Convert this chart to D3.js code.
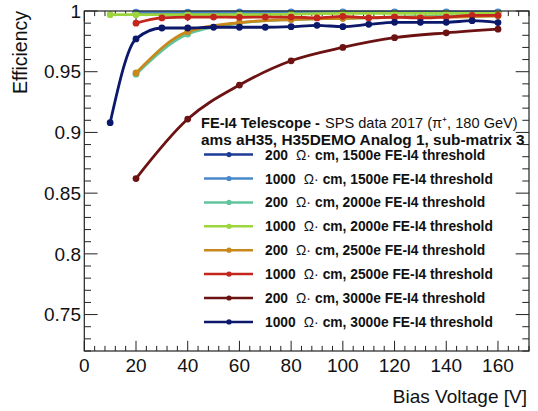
<!DOCTYPE html>
<html>
<head>
<meta charset="utf-8">
<script src="https://cdn.jsdelivr.net/npm/d3@7"></script>
<style>
  html, body { margin: 0; padding: 0; background: #fff; }
  svg { display: block; font-family: "Liberation Sans", Arial, Helvetica, sans-serif; }
</style>
</head>
<body>
<svg id="chart" width="538" height="411"></svg>
<script>
// ---------- data ----------
const seriesNames = [
  ["200", "1500e"], ["1000", "1500e"], ["200", "2000e"], ["1000", "2000e"],
  ["200", "2500e"], ["1000", "2500e"], ["200", "3000e"], ["1000", "3000e"]
];
const seriesColors = ["#1c3c96", "#4a88cc", "#62c49c", "#9cd63c", "#c8881c", "#c2261c", "#6c1212", "#0c186a"];

const x20 = [20, 40, 60, 80, 100, 120, 140, 160];
const x10 = [20, 30, 40, 50, 60, 70, 80, 90, 100, 110, 120, 130, 140, 150, 160];
const xNavy = [10, 20, 30, 40, 50, 60, 70, 80, 90, 100, 110, 120, 130, 140, 150, 160];
const xLime = [10, 20, 40, 60, 80, 100, 120, 140, 160];

const y200_1500 = [0.9986, 0.9987, 0.9988, 0.9988, 0.9988, 0.9989, 0.9989, 0.9989];
const y1000_1500 = [0.9990, 0.9991, 0.9992, 0.9992, 0.9992, 0.9993, 0.9993, 0.9993];
const y200_2000 = [0.948, 0.981, 0.990, 0.993, 0.994, 0.995, 0.996, 0.996];
const y1000_2000 = [0.997, 0.997, 0.997, 0.997, 0.9975, 0.998, 0.998, 0.998, 0.998];
const y200_2500 = [0.949, 0.983, 0.9905, 0.993, 0.994, 0.995, 0.995, 0.996];
const y1000_2500 = [0.990, 0.9943, 0.995, 0.995, 0.9948, 0.995, 0.995, 0.9943, 0.9956, 0.9943, 0.995, 0.9943, 0.995, 0.9964, 0.9964];
const y200_3000 = [0.862, 0.911, 0.939, 0.959, 0.970, 0.978, 0.982, 0.985];
const y1000_3000 = [0.908, 0.977, 0.986, 0.986, 0.9866, 0.9866, 0.9866, 0.9871, 0.9882, 0.9871, 0.989, 0.9907, 0.9907, 0.9907, 0.992, 0.9905];

const seriesX = [x20, x20, x20, xLime, x20, x10, x20, xNavy];
const seriesY = [y200_1500, y1000_1500, y200_2000, y1000_2000, y200_2500, y1000_2500, y200_3000, y1000_3000];

const xTicks = [0, 20, 40, 60, 80, 100, 120, 140, 160];
const yTicks = [0.75, 0.8, 0.85, 0.9, 0.95, 1];
const yTickLabels = ["0.75", "0.8", "0.85", "0.9", "0.95", "1"];

const headerBold = "FE-I4 Telescope -";
const headerRegular = "SPS data 2017 (\u03C0\u207A, 180 GeV)";
const header2 = "ams aH35, H35DEMO Analog 1, sub-matrix 3";
const xTitle = "Bias Voltage [V]";
const yTitle = "Efficiency";

// ---------- layout ----------
const L = 84.3, R = 529, T = 11, B = 351;
const svg = d3.select("#chart");
svg.append("rect").attr("width", 538).attr("height", 411).attr("fill", "#fff");

const x = d3.scaleLinear().domain([0, 172]).range([L, R]);
const y = d3.scaleLinear().domain([0.72, 1.0]).range([B, T]);

const majorX = 10.2, minorX = 5.1, majorY = 13.3, minorY = 6.7;
const axisColor = "#222";

const g = svg.append("g");

// x ticks (bottom and top)
const xMinor = d3.range(0, 173, 4);
xMinor.forEach(v => {
  const isMajor = v % 20 === 0;
  const len = isMajor ? majorX : minorX;
  g.append("line").attr("x1", x(v)).attr("x2", x(v)).attr("y1", B).attr("y2", B - len)
    .attr("stroke", axisColor).attr("stroke-width", 1);
  g.append("line").attr("x1", x(v)).attr("x2", x(v)).attr("y1", T).attr("y2", T + len)
    .attr("stroke", axisColor).attr("stroke-width", 1);
});
// y ticks (left and right)
const yMinor = d3.range(72, 101, 1).map(v => v / 100);
yMinor.forEach(v => {
  const isMajor = Math.round(v * 100) % 5 === 0;
  const len = isMajor ? majorY : minorY;
  g.append("line").attr("x1", L).attr("x2", L + len).attr("y1", y(v)).attr("y2", y(v))
    .attr("stroke", axisColor).attr("stroke-width", 1);
  g.append("line").attr("x1", R).attr("x2", R - len).attr("y1", y(v)).attr("y2", y(v))
    .attr("stroke", axisColor).attr("stroke-width", 1);
});

// tick labels
g.selectAll(".xl").data(xTicks).enter().append("text")
  .attr("x", d => x(d)).attr("y", 372).attr("text-anchor", "middle")
  .attr("font-size", 19).attr("fill", "#111").text(d => d);
g.selectAll(".yl").data(yTicks).enter().append("text")
  .attr("x", 81).attr("y", d => y(d)).attr("dy", "0.35em").attr("text-anchor", "end")
  .attr("font-size", 19).attr("fill", "#111").text((d, i) => yTickLabels[i]);

// axis titles
svg.append("text").attr("x", 527).attr("y", 403).attr("text-anchor", "end")
  .attr("font-size", 19).attr("fill", "#111").text(xTitle);
svg.append("text").attr("transform", "translate(27,11) rotate(-90)").attr("text-anchor", "end")
  .attr("font-size", 19.5).attr("fill", "#111").text(yTitle);

// series
const line = d3.line().x(d => x(d[0])).y(d => y(d[1])).curve(d3.curveMonotoneX);
const plot = svg.append("g");
seriesY.forEach((ys, i) => {
  const pts = ys.map((v, j) => [seriesX[i][j], v]);
  plot.append("path").datum(pts).attr("d", line).attr("fill", "none")
    .attr("stroke", seriesColors[i]).attr("stroke-width", 2.8);
  plot.selectAll(null).data(pts).enter().append("circle")
    .attr("cx", d => x(d[0])).attr("cy", d => y(d[1])).attr("r", 3.4)
    .attr("fill", seriesColors[i]);
});

// frame
svg.append("rect").attr("x", L).attr("y", T).attr("width", R - L).attr("height", B - T)
  .attr("fill", "none").attr("stroke", axisColor).attr("stroke-width", 1.2);

// header
const h1 = svg.append("text").attr("x", 201).attr("y", 128).attr("font-size", 14.6).attr("fill", "#111");
h1.append("tspan").attr("font-weight", "bold").text(headerBold);
h1.append("tspan").attr("dx", 5).text(headerRegular);
svg.append("text").attr("x", 201).attr("y", 145).attr("font-size", 15.4).attr("font-weight", "bold")
  .attr("fill", "#111").text(header2);

// legend
const leg = svg.append("g");
seriesNames.forEach((n, i) => {
  const cy = 154.6 + i * 23.9;
  leg.append("line").attr("x1", 204).attr("x2", 253).attr("y1", cy).attr("y2", cy)
    .attr("stroke", seriesColors[i]).attr("stroke-width", 2.5);
  leg.append("circle").attr("cx", 229).attr("cy", cy).attr("r", 2.6).attr("fill", seriesColors[i]);
  const t = leg.append("text").attr("x", 265).attr("y", cy + 5).attr("font-size", 13.8).attr("fill", "#111");
  t.append("tspan").attr("font-weight", "bold").text(n[0]);
  t.append("tspan").attr("dx", 8).text("\u03A9\u00B7");
  t.append("tspan").attr("dx", 4).attr("font-weight", "bold").text("cm, " + n[1] + " FE-I4 threshold");
});
</script>
</body>
</html>
